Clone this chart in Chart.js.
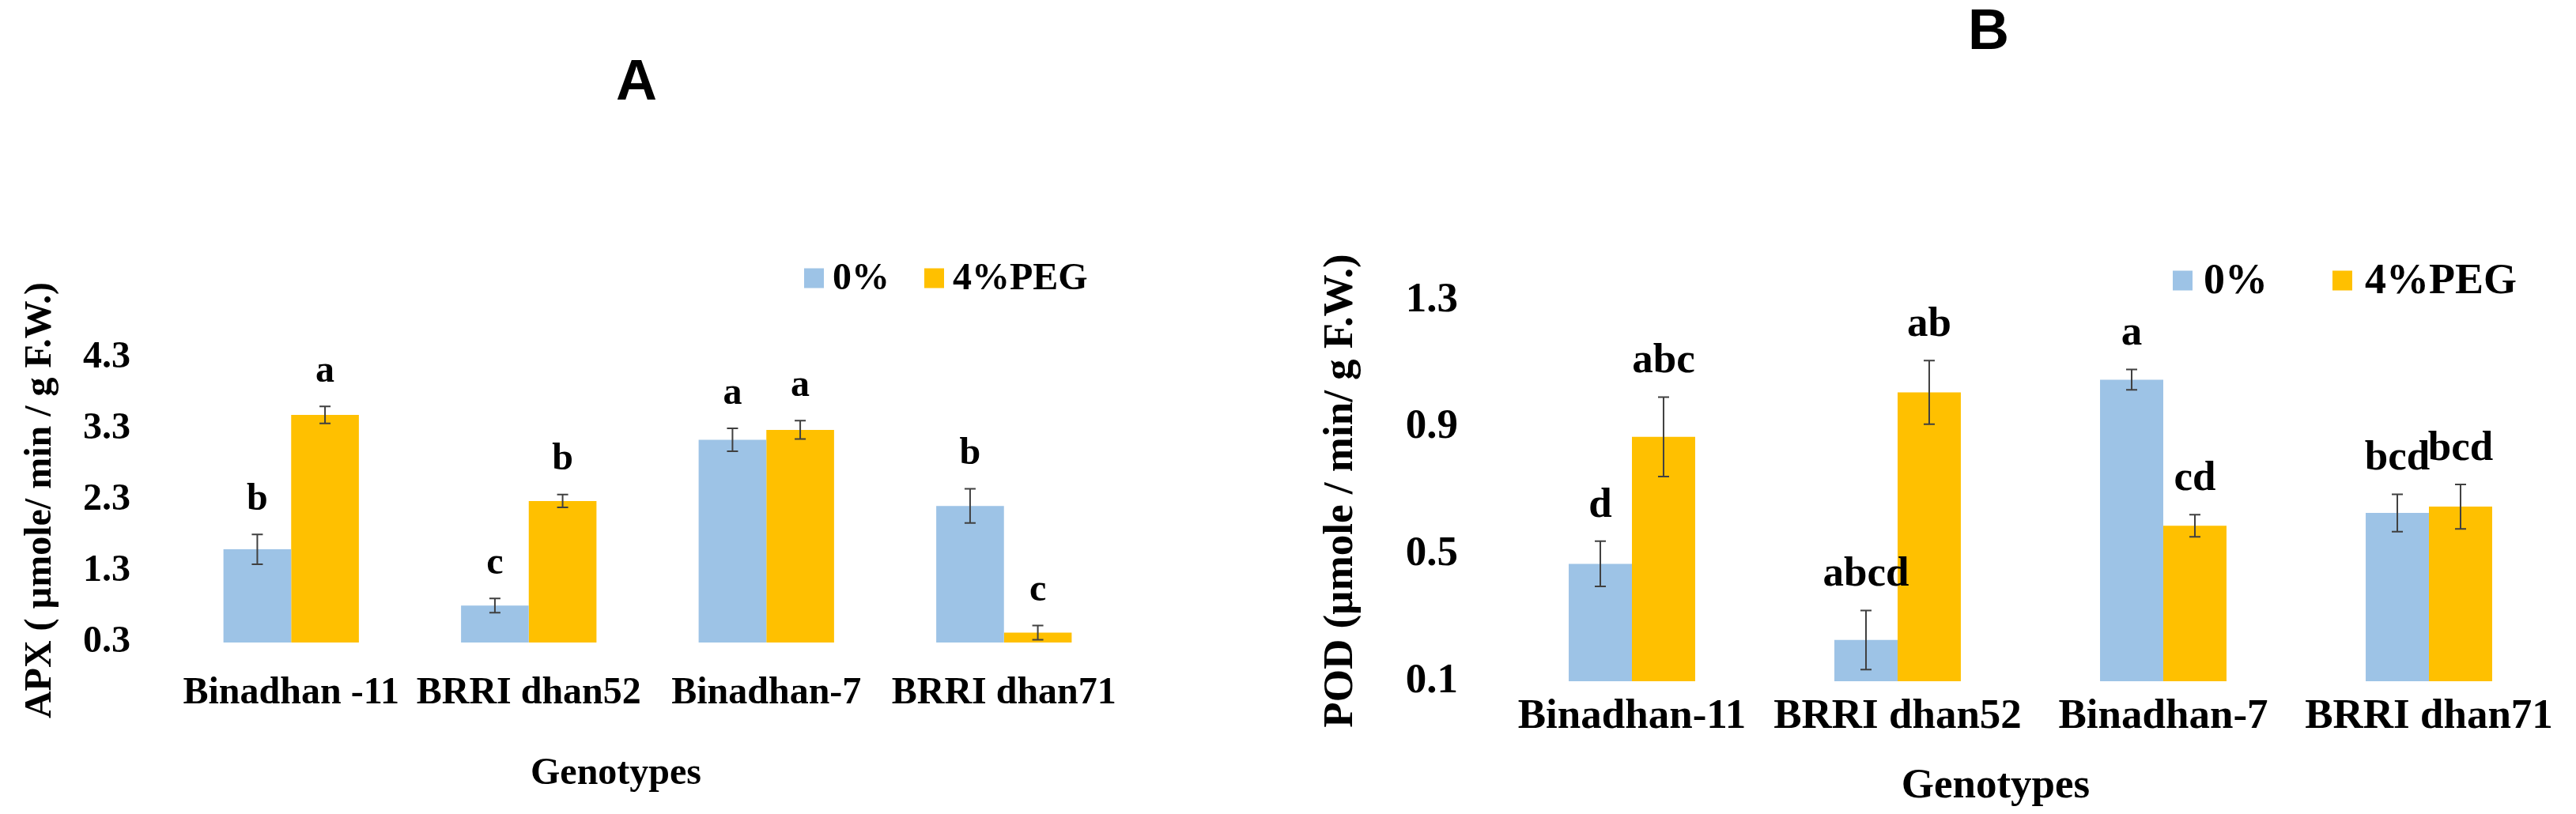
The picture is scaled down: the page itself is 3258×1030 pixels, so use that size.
<!DOCTYPE html>
<html><head><meta charset="utf-8">
<script src="https://cdn.jsdelivr.net/npm/chart.js@4.4.1/dist/chart.umd.min.js"></script>
<style>
html,body{margin:0;padding:0;background:#fff;width:3258px;height:1030px;overflow:hidden}
canvas{position:absolute;top:0}
#cA{left:0}
#cB{left:1640px}
</style></head><body>
<canvas id="cA" width="1640" height="1030"></canvas>
<canvas id="cB" width="1618" height="1030"></canvas>
<script>
// ---- data ----
const genotypesA = ['Binadhan -11', 'BRRI dhan52', 'Binadhan-7', 'BRRI dhan71'];
const genotypesB = ['Binadhan-11', 'BRRI dhan52', 'Binadhan-7', 'BRRI dhan71'];
const seriesNames = ['0%', '4%PEG'];

const apxControl = [1.61, 0.82, 3.15, 2.22];
const apxControlErr = [0.21, 0.10, 0.16, 0.24];
const apxControlLetters = ['b', 'c', 'a', 'b'];
const apxPeg = [3.50, 2.29, 3.29, 0.44];
const apxPegErr = [0.12, 0.09, 0.13, 0.10];
const apxPegLetters = ['a', 'b', 'a', 'c'];
const apxTicks = [0.3, 1.3, 2.3, 3.3, 4.3];

const podControl = [0.47, 0.23, 1.05, 0.63];
const podControlErr = [0.071, 0.093, 0.032, 0.059];
const podControlLetters = ['d', 'abcd', 'a', 'bcd'];
const podPeg = [0.87, 1.01, 0.59, 0.65];
const podPegErr = [0.125, 0.10, 0.035, 0.07];
const podPegLetters = ['abc', 'ab', 'cd', 'bcd'];
const podTicks = [0.1, 0.5, 0.9, 1.3];

// ---- styles ----
const BLUE = '#9DC3E6';
const ORANGE = '#FFC000';
const SERIF = "'Liberation Serif', 'Times New Roman', serif";
const SANS = "'Liberation Sans', Arial, sans-serif";

const deco = {
  id: 'deco',
  afterDatasetsDraw(chart, args, o) {
    const ctx = chart.ctx;
    const ys = chart.scales.y;
    const ca = chart.chartArea;
    ctx.save();
    chart.data.datasets.forEach((ds, i) => {
      const meta = chart.getDatasetMeta(i);
      meta.data.forEach((bar, j) => {
        const v = ds.data[j], e = ds.errors[j];
        const yt = ys.getPixelForValue(v + e);
        const yb = ys.getPixelForValue(v - e);
        const x = bar.x;
        ctx.strokeStyle = '#404040';
        ctx.lineWidth = 2;
        ctx.beginPath();
        ctx.moveTo(x, yt); ctx.lineTo(x, yb);
        ctx.moveTo(x - o.cap, yt); ctx.lineTo(x + o.cap, yt);
        ctx.moveTo(x - o.cap, yb); ctx.lineTo(x + o.cap, yb);
        ctx.stroke();
        ctx.fillStyle = '#000';
        ctx.font = 'bold ' + o.fontSize + 'px ' + SERIF;
        ctx.textAlign = 'center';
        ctx.textBaseline = 'middle';
        ctx.fillText(ds.letters[j], x, yt - o.gap);
      });
    });
    // legend
    chart.data.datasets.forEach((ds, i) => {
      const L = o.legend;
      ctx.fillStyle = ds.backgroundColor;
      ctx.fillRect(L.boxX[i], L.y - L.box / 2, L.box, L.box);
      ctx.fillStyle = '#000';
      ctx.font = 'bold ' + L.fontSize + 'px ' + SERIF;
      ctx.textAlign = 'left';
      ctx.textBaseline = 'middle';
      ctx.fillText(ds.label, L.textX[i], L.y + 2);
    });
    // x-axis title
    ctx.fillStyle = '#000';
    ctx.font = 'bold ' + o.fontSize + 'px ' + SERIF;
    ctx.textAlign = 'center';
    ctx.textBaseline = 'middle';
    ctx.fillText(o.xTitle.text, (ca.left + ca.right) / 2 + o.xTitle.dx, o.xTitle.y);
    // panel letter
    ctx.font = 'bold ' + o.panel.size + 'px ' + SANS;
    ctx.fillText(o.panel.text, o.panel.x, o.panel.y);
    ctx.restore();
  }
};

function makeChart(id, cfg) {
  const f = { family: SERIF, weight: 'bold', size: cfg.fs };
  return new Chart(document.getElementById(id), {
    type: 'bar',
    data: {
      labels: cfg.labels,
      datasets: [
        { label: seriesNames[0], data: cfg.s1, errors: cfg.e1, letters: cfg.l1, backgroundColor: BLUE, borderWidth: 0 },
        { label: seriesNames[1], data: cfg.s2, errors: cfg.e2, letters: cfg.l2, backgroundColor: ORANGE, borderWidth: 0 }
      ]
    },
    options: {
      responsive: false,
      animation: false,
      devicePixelRatio: 1,
      categoryPercentage: cfg.catPct,
      barPercentage: 1.0,
      layout: { padding: cfg.pad },
      plugins: {
        legend: { display: false },
        title: { display: false },
        tooltip: { enabled: false },
        deco: cfg.deco
      },
      scales: {
        x: {
          grid: { display: false },
          border: { display: false },
          ticks: { color: '#000', font: f, padding: cfg.xTickPad, maxRotation: 0, autoSkip: false },
          title: { display: false },
          afterFit(s) { s.height = cfg.xHeight; }
        },
        y: {
          min: cfg.ticks[0],
          max: cfg.ticks[cfg.ticks.length - 1],
          beginAtZero: false,
          grid: { display: false },
          border: { display: false },
          ticks: { color: '#000', font: f, padding: cfg.yTickPad, callback: v => Number(v).toFixed(1) },
          afterBuildTicks(s) { s.ticks = cfg.ticks.map(v => ({ value: v })); },
          title: { display: true, text: cfg.yTitle, color: '#000', font: f, padding: { top: cfg.yTitlePad, bottom: 0 } },
          afterFit(s) { s.width = cfg.yWidth; }
        }
      }
    },
    plugins: [deco]
  });
}

makeChart('cA', {
  labels: genotypesA,
  s1: apxControl, e1: apxControlErr, l1: apxControlLetters,
  s2: apxPeg, e2: apxPegErr, l2: apxPegLetters,
  ticks: apxTicks,
  yTitle: 'APX ( µmole/ min / g F.W.)',
  fs: 48,
  catPct: 0.57,
  pad: { left: 0, right: 220, top: 453, bottom: 0 },
  xHeight: 217, xTickPad: 28,
  yWidth: 218, yTickPad: 45, yTitlePad: 23,
  deco: {
    cap: 7, gap: 44, fontSize: 48,
    legend: { boxX: [1017, 1169], textX: [1053, 1205], y: 352, box: 25, fontSize: 48 },
    xTitle: { text: 'Genotypes', dx: -40, y: 980 },
    panel: { text: 'A', x: 805, y: 106, size: 72 }
  }
});

makeChart('cB', {
  labels: genotypesB,
  s1: podControl, e1: podControlErr, l1: podControlLetters,
  s2: podPeg, e2: podPegErr, l2: podPegLetters,
  ticks: podTicks,
  yTitle: 'POD (µmole / min/ g F.W.)',
  fs: 53,
  catPct: 0.476,
  pad: { left: 0, right: 18, top: 380, bottom: 0 },
  xHeight: 168, xTickPad: 6,
  yWidth: 256, yTickPad: 44, yTitlePad: 25,
  deco: {
    cap: 7, gap: 45, fontSize: 53,
    legend: { boxX: [1108, 1310], textX: [1147, 1351], y: 355, box: 25, fontSize: 54 },
    xTitle: { text: 'Genotypes', dx: -44, y: 995 },
    panel: { text: 'B', x: 875, y: 42, size: 72 }
  }
});
</script>
</body></html>
